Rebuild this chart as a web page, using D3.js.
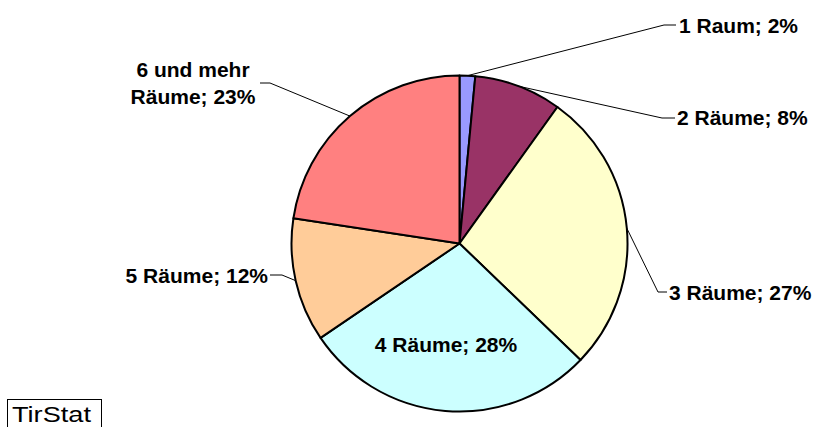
<!DOCTYPE html>
<html>
<head>
<meta charset="utf-8">
<script src="https://cdn.jsdelivr.net/npm/d3@7"></script>
<style>
    body{margin:0;background:#fff;}
    svg{display:block;font-family:Arial,"Liberation Sans",sans-serif;}
</style>
</head>
<body>
<div id="chart"></div>
<script>
// data
var categories = ["1 Raum","2 Räume","3 Räume","4 Räume","5 Räume","6 und mehr Räume"];
var shares = [1.5, 8.4, 27.3, 28.3, 11.9, 22.6];
var colors = ["#9999FF","#993366","#FFFFCC","#CCFFFF","#FFCC99","#FF8080"];
var sourceText = "TirStat";

(function(){
    var width = 819, height = 427;
    var cx = 459.5, cy = 243.5, radius = 168;

    // label placement (Excel style: text outside with a leader line)
    var labelLayout = [
        {x:679, y:[33], anchor:"start", elbow:[664,25], tick:[676,25]},
        {x:677, y:[125], anchor:"start", elbow:[662,118], tick:[675,118]},
        {x:669, y:[300], anchor:"start", elbow:[658,292], tick:[667,292]},
        {x:446, y:[352], anchor:"middle"},
        {x:268, y:[283], anchor:"end", elbow:[282,275], tick:[270,275]},
        {x:193, y:[77,104], anchor:"middle", elbow:[270,83], tick:[260,83], lines:["6 und mehr","Räume; 23%"]}
    ];

    var svg = d3.select("#chart").append("svg")
        .attr("width",width)
        .attr("height",height);

    var pie = d3.pie().sort(null).value(function(d){return d;});
    var arcs = pie(shares);
    var arc = d3.arc().innerRadius(0).outerRadius(radius);
    var edge = d3.arc().innerRadius(radius).outerRadius(radius);

    var g = svg.append("g").attr("transform","translate(" + cx + "," + cy + ")");

    g.selectAll(".slice")
        .data(arcs)
        .enter()
        .append("path")
        .attr("class","slice")
        .attr("d",arc)
        .attr("fill",function(d,i){return colors[i];})
        .attr("stroke","#000")
        .attr("stroke-width",2)
        .attr("stroke-linejoin","round");

    // leader lines
    arcs.forEach(function(d,i){
        var L = labelLayout[i];
        if (!L.elbow) return;
        var p = edge.centroid(d);
        var pts = [[p[0]+cx,p[1]+cy], L.elbow, L.tick];
        svg.append("path")
            .attr("d",d3.line()(pts))
            .attr("fill","none")
            .attr("stroke","#000")
            .attr("stroke-width",1);
    });

    // labels
    arcs.forEach(function(d,i){
        var L = labelLayout[i];
        var txt = L.lines || [categories[i] + "; " + Math.round(shares[i]) + "%"];
        txt.forEach(function(t,k){
            svg.append("text")
                .attr("x",L.x)
                .attr("y",L.y[k])
                .attr("text-anchor",L.anchor)
                .style("font-size","21px")
                .style("font-weight","bold")
                .attr("fill","#000")
                .text(t);
        });
    });

    // source box
    svg.append("rect")
        .attr("x",7.5).attr("y",399.5)
        .attr("width",94).attr("height",40)
        .attr("fill","#fff")
        .attr("stroke","#000")
        .attr("stroke-width",1);
    svg.append("text")
        .attr("x",12).attr("y",422)
        .attr("textLength",79)
        .attr("lengthAdjust","spacingAndGlyphs")
        .style("font-size","22px")
        .attr("fill","#000")
        .text(sourceText);
})();
</script>
</body>
</html>
